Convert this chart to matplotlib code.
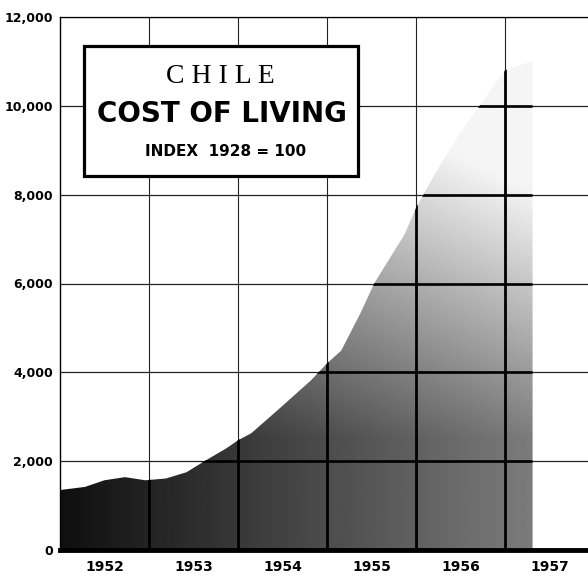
import numpy as np
import matplotlib
matplotlib.use("Agg")
import matplotlib.pyplot as plt
from matplotlib.patches import Rectangle

# cost of living index (1928 = 100)
years = [1952.00, 1952.28, 1952.50, 1952.73, 1952.96, 1953.19, 1953.42, 1953.64,
         1953.87, 1954.00, 1954.15, 1954.48, 1954.82, 1955.00, 1955.16, 1955.38,
         1955.53, 1955.69, 1955.87, 1956.00, 1956.25, 1956.50, 1956.75, 1957.00,
         1957.31]
index = [1350, 1420, 1570, 1640, 1570, 1610, 1750, 2020,
         2290, 2470, 2630, 3210, 3820, 4200, 4490, 5350,
         6000, 6520, 7100, 7700, 8600, 9400, 10100, 10800,
         11000]

year_labels = ["1952", "1953", "1954", "1955", "1956", "1957"]
y_ticks = [0, 2000, 4000, 6000, 8000, 10000, 12000]
y_tick_labels = ["0", "2,000", "4,000", "6,000", "8,000", "10,000", "12,000"]

fig = plt.figure(figsize=(5.88, 5.79), dpi=100)
ax = fig.add_axes([60 / 588, 29 / 579, 528 / 588, 533 / 579])
x0, x1 = 1952.0, 1952.0 + 528 / 89
ax.set_xlim(x0, x1)
ax.set_ylim(0, 12000)

# area with a fading grey shade, clipped to the curve
area = ax.fill_between(years, index, 0, color="none", lw=0)
clip = area.get_paths()[0]
gx = np.linspace(x0, x1, 300)
gy = np.linspace(0, 12000, 300)
GX, GY = np.meshgrid(gx, gy)
shade = 0.94 - 0.08 * (GX - 1952) - 0.085 * np.clip(GY - 2500, 0, None) / 1000
shade = np.clip(shade, 0.04, 1)
im = ax.imshow(shade, extent=(x0, x1, 0, 12000), origin="lower", cmap="gray_r",
               vmin=0, vmax=1, aspect="auto", interpolation="bilinear", zorder=1)
im.set_clip_path(clip, ax.transData)

# grid: thin everywhere, heavier where it crosses the shaded area
grid_years = [1952 + i for i in range(len(year_labels))]
for gx_ in grid_years[1:]:
    ax.axvline(gx_, color="#222222", lw=0.8, zorder=2)
    ln = ax.axvline(gx_, color="black", lw=2.0, zorder=2)
    ln.set_clip_path(clip, ax.transData)
for gy_ in y_ticks[1:]:
    ax.axhline(gy_, color="#222222", lw=0.9, zorder=2)
    ln = ax.axhline(gy_, color="black", lw=1.9, zorder=2)
    ln.set_clip_path(clip, ax.transData)

ax.spines["right"].set_visible(False)
ax.spines["top"].set_linewidth(0.9)
ax.spines["left"].set_linewidth(1.0)
ax.spines["bottom"].set_linewidth(3.5)

ax.set_yticks(y_ticks)
ax.set_yticklabels(y_tick_labels, fontsize=9, fontweight="bold")
ax.set_xticks([y + 0.5 for y in grid_years])
ax.set_xticklabels(year_labels, fontsize=10, fontweight="bold")
ax.tick_params(axis="both", length=0)
ax.tick_params(axis="y", pad=5)
ax.tick_params(axis="x", pad=7)

# title box
ax.add_patch(Rectangle((1952.27, 8420), 3.08, 2927, facecolor="white",
                       edgecolor="black", lw=2.3, zorder=4))
ax.text(1953.80, 10513, "C H I L E", ha="center", va="baseline", fontsize=20,
        family="Liberation Serif", zorder=5)
ax.text(1953.82, 9635, "COST OF LIVING", ha="center", va="baseline", fontsize=20,
        fontweight="bold", zorder=5)
ax.text(1953.86, 8870, "INDEX  1928 = 100", ha="center", va="baseline", fontsize=11,
        fontweight="bold", zorder=5)

fig.savefig("out.png", dpi=100)
